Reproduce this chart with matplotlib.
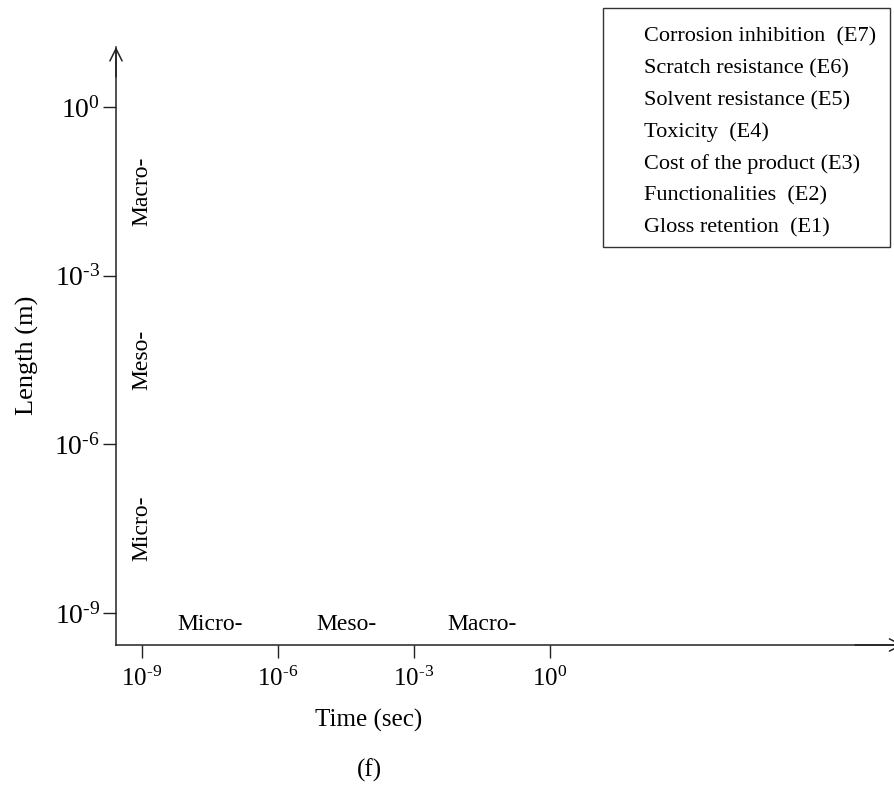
"""Time / length scale map with the evaluation criteria listed in a box."""

import matplotlib.pyplot as plt
import numpy as np
from matplotlib.patches import Rectangle

# decades shown on both axes
time_ticks = [1e-9, 1e-6, 1e-3, 1e0]
length_ticks = [1e-9, 1e-6, 1e-3, 1e0]
tick_exps = ["\u20109", "\u20106", "\u20103", "0"]
scale_names = ["Micro-", "Meso-", "Macro-"]
criteria = [
    "Corrosion inhibition  (E7)",
    "Scratch resistance (E6)",
    "Solvent resistance (E5)",
    "Toxicity  (E4)",
    "Cost of the product (E3)",
    "Functionalities  (E2)",
    "Gloss retention  (E1)",
]

plt.rcParams["font.family"] = ["Liberation Serif", "DejaVu Serif"]
plt.rcParams["mathtext.fontset"] = "custom"
plt.rcParams["mathtext.rm"] = "Liberation Serif"

tick_labels = ["$\\mathregular{10^{%s}}$" % e for e in tick_exps]

W, H = 894, 791
fig = plt.figure(figsize=(W / 100, H / 100), dpi=100)

# axes box in pixels: x 116..894, y 47..645
ax = fig.add_axes([116 / W, 1 - 645 / H, (W - 116) / W, (645 - 47) / H])
ax.set_xscale("log")
ax.set_yscale("log")
ax.set_xlim(10 ** -9.574, 10 ** 7.59)
ax.set_ylim(10 ** -9.57, 10 ** 1.07)

for side in ("top", "right"):
    ax.spines[side].set_visible(False)
for side in ("left", "bottom"):
    ax.spines[side].set_linewidth(1.1)
    ax.spines[side].set_color("#222222")

ax.set_xticks(time_ticks)
ax.set_xticklabels(tick_labels, fontsize=18)
ax.set_yticks(length_ticks)
ax.set_yticklabels(tick_labels, fontsize=20)
ax.minorticks_off()
ax.tick_params(axis="both", direction="out", length=9.5, width=1.0, color="#222222")
ax.tick_params(axis="x", pad=6)
ax.tick_params(axis="y", pad=2)

# arrow heads on the axes
ax.annotate("", xy=(0, 1.0), xycoords="axes fraction", xytext=(0, 0.95),
            arrowprops=dict(arrowstyle="->", lw=1.1, color="#222222",
                            mutation_scale=22, shrinkA=0, shrinkB=0))
ax.annotate("", xy=(1.012, 0), xycoords="axes fraction", xytext=(0.95, 0),
            arrowprops=dict(arrowstyle="->", lw=1.1, color="#222222",
                            mutation_scale=22, shrinkA=0, shrinkB=0),
            annotation_clip=False)

# scale names between decades
mids_t = np.sqrt(np.array(time_ticks[:-1]) * np.array(time_ticks[1:]))
mids_l = np.sqrt(np.array(length_ticks[:-1]) * np.array(length_ticks[1:]))
for name, xm in zip(scale_names, mids_t):
    ax.text(xm, 0.035, name, transform=ax.get_xaxis_transform(),
            ha="center", va="center", fontsize=17)
for name, ym in zip(scale_names, mids_l):
    ax.text(time_ticks[0], ym, name, rotation=90, ha="center", va="center",
            fontsize=17)

ax.set_xlabel("Time (sec)", fontsize=18, va="center")
ax.xaxis.set_label_coords((369 - 116) / 778, (645 - 720) / 598)
ax.set_ylabel("Length (m)", fontsize=19, va="center")
ax.yaxis.set_label_coords((27 - 116) / 778, (645 - 355) / 598)

fig.text(369 / W, 1 - 770 / H, "(f)", ha="center", va="center", fontsize=18)

# criteria box
fig.add_artist(Rectangle((603 / W, 1 - 247 / H), 287 / W, 239 / H,
                         transform=fig.transFigure, fill=False,
                         edgecolor="#333333", lw=1.0))
y0, step = 37, 31.8
for i, txt in enumerate(criteria):
    fig.text(644 / W, 1 - (y0 + i * step) / H, txt, ha="left", va="center",
             fontsize=16)

fig.savefig("out.png", dpi=100)
